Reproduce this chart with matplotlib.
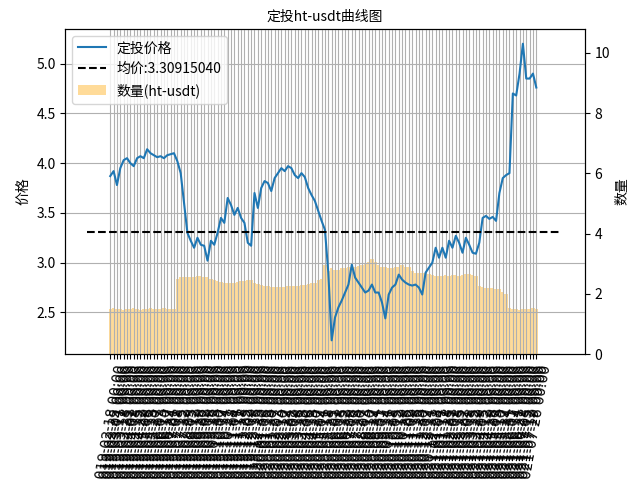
import matplotlib
matplotlib.use("Agg")
import matplotlib.pyplot as plt
import numpy as np
import pandas as pd

plt.rcParams['font.family'] = ['Noto Sans CJK SC', 'DejaVu Sans']
plt.rcParams['axes.unicode_minus'] = False

prices = [3.87,3.92,3.78,3.95,4.03,4.05,4.0,3.97,4.05,4.07,
          4.05,4.14,4.1,4.08,4.06,4.07,4.05,4.08,4.09,4.1,
          4.02,3.9,3.6,3.3,3.22,3.15,3.25,3.18,3.17,3.02,
          3.22,3.18,3.3,3.45,3.4,3.65,3.58,3.48,3.55,3.45,
          3.4,3.2,3.17,3.7,3.55,3.75,3.82,3.8,3.72,3.85,
          3.9,3.95,3.92,3.97,3.95,3.88,3.85,3.9,3.86,3.75,
          3.68,3.62,3.52,3.42,3.33,2.9,2.22,2.45,2.55,2.62,
          2.7,2.78,2.98,2.85,2.8,2.75,2.7,2.72,2.78,2.7,
          2.7,2.6,2.44,2.68,2.75,2.78,2.88,2.83,2.8,2.78,
          2.77,2.78,2.75,2.68,2.9,2.95,3.0,3.15,3.05,3.15,
          3.05,3.22,3.15,3.27,3.2,3.1,3.25,3.18,3.1,3.09,
          3.2,3.45,3.47,3.44,3.46,3.42,3.7,3.85,3.88,3.9,
          4.7,4.68,4.9,5.2,4.85,4.85,4.9,4.76]

qty = [1.5,1.55,1.5,1.5,1.48,1.5,1.5,1.52,1.5,1.48,
       1.5,1.5,1.52,1.5,1.5,1.5,1.52,1.5,1.5,1.5,
       2.5,2.55,2.55,2.55,2.55,2.55,2.58,2.58,2.55,2.55,
       2.5,2.45,2.42,2.4,2.38,2.35,2.35,2.38,2.4,2.42,
       2.42,2.45,2.48,2.35,2.32,2.3,2.28,2.25,2.22,2.22,
       2.22,2.22,2.22,2.25,2.25,2.25,2.28,2.3,2.3,2.32,
       2.35,2.38,2.45,2.5,2.95,2.75,2.85,2.8,2.8,2.85,
       2.85,2.88,2.9,2.9,2.92,2.95,3.0,3.05,3.15,3.05,
       2.95,2.9,2.88,2.85,2.85,2.9,2.9,2.95,2.9,2.9,
       2.75,2.7,2.7,2.68,2.68,2.65,2.62,2.6,2.6,2.6,
       2.62,2.6,2.62,2.62,2.6,2.62,2.65,2.65,2.62,2.6,
       2.25,2.22,2.2,2.2,2.2,2.18,2.15,2.05,2.0,1.55,
       1.5,1.5,1.48,1.5,1.5,1.5,1.52,1.5]

avg_price = 3.30915040
dates = [d.strftime('%Y-%m-%d %H:%M') for d in pd.date_range('2019-02-18', periods=len(prices), freq='W-MON')]

fig, ax = plt.subplots(figsize=(6.4, 4.8), dpi=100)
x = np.arange(len(prices))
l1, = ax.plot(x, prices, color='#1f77b4', label='定投价格')
l2, = ax.plot([-7, len(prices) + 6], [avg_price, avg_price], 'k--', label='均价:%.8f' % avg_price)
ax.set_xlim(-13.4, len(prices) + 13.5)
ax.set_xticks(x)
ax.set_xticklabels(dates, rotation=80, fontsize=10, family='DejaVu Sans')
ax.grid(True)
ax.set_xlabel('时间')
ax.set_ylabel('价格')
ax.set_title('定投ht-usdt曲线图', fontsize=10)

ax2 = ax.twinx()
b = ax2.bar(x, qty, width=1.0, color='orange', alpha=0.4, label='数量(ht-usdt)')
ax2.set_ylabel('数量')
ax2.set_ylim(0, 10.8)
ax.set_ylim(2.08, 5.35)
ax.set_zorder(ax2.get_zorder() + 1)
ax.patch.set_visible(False)
ax.legend(handles=[l1, l2, b], loc='upper left')

fig.subplots_adjust(left=0.102, right=0.914, top=0.94, bottom=0.262)
fig.savefig('out.png')
